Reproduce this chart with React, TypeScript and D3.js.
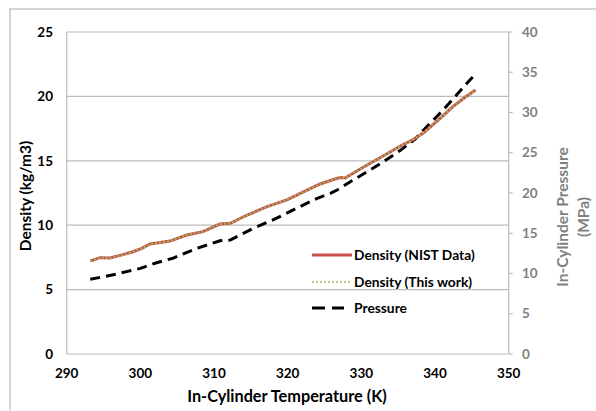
import React from "react";
import * as d3 from "d3";

const densityT = [293.2, 294.5, 295.9, 297.5, 299.0, 300.2, 301.3, 302.7, 304.0, 306.3, 308.5, 310.8, 312.2, 314.5, 317.2, 319.9, 322.0, 324.4, 326.2, 327.1, 327.8, 329.5, 331.2, 333.2, 335.3, 336.9, 338.5, 339.8, 341.0, 342.3, 343.9, 345.5];
const densityNIST = [7.22, 7.48, 7.45, 7.7, 7.94, 8.2, 8.54, 8.65, 8.77, 9.24, 9.5, 10.09, 10.15, 10.79, 11.44, 11.96, 12.55, 13.2, 13.55, 13.7, 13.66, 14.25, 14.81, 15.45, 16.15, 16.6, 17.2, 17.85, 18.45, 19.15, 19.85, 20.5];
const densityThisWork = [7.22, 7.48, 7.45, 7.7, 7.94, 8.2, 8.54, 8.65, 8.77, 9.24, 9.5, 10.09, 10.15, 10.79, 11.44, 11.96, 12.55, 13.2, 13.55, 13.7, 13.66, 14.25, 14.81, 15.45, 16.15, 16.6, 17.2, 17.85, 18.45, 19.15, 19.85, 20.5];
const pressureT = [293.2, 295.0, 296.8, 298.4, 300.0, 302.2, 304.4, 306.0, 307.7, 310.8, 312.2, 315.3, 318.0, 321.2, 324.0, 325.8, 326.7, 328.5, 330.8, 333.0, 335.3, 337.3, 339.1, 340.9, 342.7, 344.3, 345.5];
const pressure = [9.28, 9.6, 9.94, 10.3, 10.64, 11.34, 11.89, 12.5, 13.13, 14.07, 14.16, 15.61, 16.65, 18.1, 19.34, 19.96, 20.37, 21.4, 22.65, 23.9, 25.3, 26.7, 28.45, 30.1, 31.95, 33.6, 34.8];

const xTicks = [290, 300, 310, 320, 330, 340, 350];
const yLeftTicks = [0, 5, 10, 15, 20, 25];
const yRightTicks = [0, 5, 10, 15, 20, 25, 30, 35, 40];
const legendLabels = ["Density (NIST Data)", "Density (This work)", "Pressure"];

const FONT = "Lato, 'Open Sans', sans-serif";

export default function App() {
  const left = 66.7, right = 508.7, top = 32, bottom = 354;
  const x = d3.scaleLinear().domain([290, 350]).range([left, right]);
  const yL = d3.scaleLinear().domain([0, 25]).range([bottom, top]);
  const yR = d3.scaleLinear().domain([0, 40]).range([bottom, top]);

  const lineD = d3.line<number>().x((_, i) => x(densityT[i])).y((d) => yL(d));
  const lineP = d3.line<number>().x((_, i) => x(pressureT[i])).y((d) => yR(d));

  const legX1 = 312, legX2 = 352, legTX = 354;
  const legY = [255, 282, 308];

  return (
    <svg width={596} height={411} style={{ position: "absolute", left: 0, top: 0, background: "#fff" }}>
      <rect x={10} y={9} width={600} height={420} fill="#fff" stroke="#bfbfbf" strokeWidth={1.3} />
      {yLeftTicks.filter((t) => t > 0).map((t) => (
        <line key={"g" + t} x1={left} x2={right} y1={yL(t)} y2={yL(t)} stroke="#bcbcbc" strokeWidth={1.2} />
      ))}
      <line x1={left} x2={left} y1={top} y2={bottom} stroke="#bcbcbc" strokeWidth={1.2} />
      <line x1={left} x2={right} y1={bottom} y2={bottom} stroke="#bcbcbc" strokeWidth={1.2} />
      <line x1={right} x2={right} y1={top} y2={bottom} stroke="#bcbcbc" strokeWidth={1.2} />
      {yRightTicks.map((t) => (
        <line key={"rt" + t} x1={right} x2={right + 4} y1={yR(t)} y2={yR(t)} stroke="#bcbcbc" strokeWidth={1.2} />
      ))}

      <path d={lineP(pressure) || ""} fill="none" stroke="#000" strokeWidth={3} strokeDasharray="10,6" />
      <path d={lineD(densityNIST) || ""} fill="none" stroke="#c9504c" strokeWidth={3} />
      <path d={lineD(densityThisWork) || ""} fill="none" stroke="#9bbb59" strokeWidth={2} strokeDasharray="2,2" />

      {yLeftTicks.map((t) => (
        <text key={"yl" + t} x={53} y={yL(t)} dy="0.35em" textAnchor="end" fontFamily={FONT} fontWeight="bold" fontSize={13.5} fill="#000">{t}</text>
      ))}
      {yRightTicks.map((t) => (
        <text key={"yr" + t} x={522} y={yR(t)} dy="0.35em" textAnchor="start" fontFamily={FONT} fontWeight="bold" fontSize={13.5} fill="#7f7f7f">{t}</text>
      ))}
      {xTicks.map((t) => (
        <text key={"x" + t} x={x(t)} y={378} textAnchor="middle" fontFamily={FONT} fontWeight="bold" fontSize={13.5} fill="#000">{t}</text>
      ))}

      <text x={287} y={402} textAnchor="middle" fontFamily={FONT} fontWeight="bold" fontSize={16.3} fill="#000">In-Cylinder Temperature (K)</text>
      <text transform="translate(31,196) rotate(-90)" textAnchor="middle" fontFamily={FONT} fontWeight="bold" fontSize={15.5} fill="#000">Density (kg/m3)</text>
      <text transform="translate(568,217) rotate(-90)" textAnchor="middle" fontFamily={FONT} fontWeight="bold" fontSize={15.5} fill="#7f7f7f">In-Cylinder Pressure</text>
      <text transform="translate(589,217) rotate(-90)" textAnchor="middle" fontFamily={FONT} fontWeight="bold" fontSize={15.5} fill="#7f7f7f">(MPa)</text>

      <line x1={legX1} x2={legX2} y1={legY[0]} y2={legY[0]} stroke="#c9504c" strokeWidth={3} />
      <line x1={legX1} x2={legX2} y1={legY[1]} y2={legY[1]} stroke="#9bbb59" strokeWidth={1.5} strokeDasharray="2,2" />
      <line x1={legX1} x2={legX2 - 8} y1={legY[2]} y2={legY[2]} stroke="#000" strokeWidth={3} strokeDasharray="13,7" />
      {legendLabels.map((l, i) => (
        <text key={l} x={legTX} y={legY[i]} dy="0.35em" fontFamily={FONT} fontWeight="bold" fontSize={13.8} fill="#000">{l}</text>
      ))}
    </svg>
  );
}
